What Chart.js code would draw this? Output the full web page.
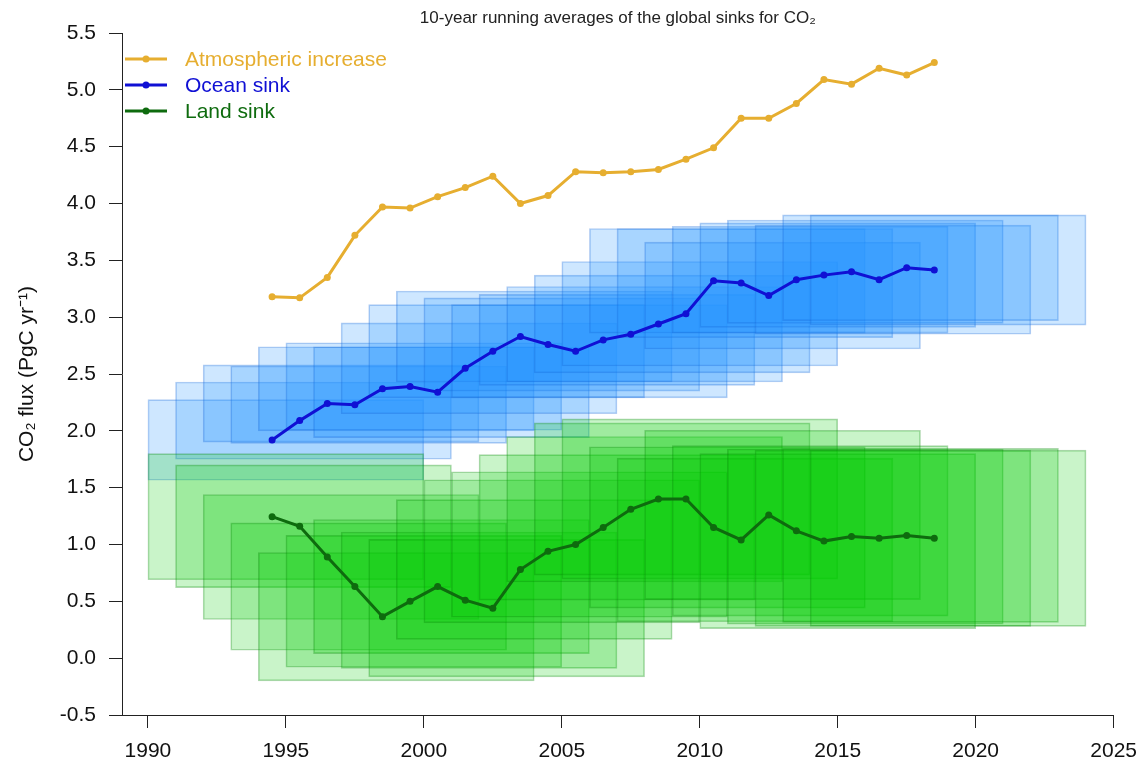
<!DOCTYPE html>
<html>
<head>
<meta charset="utf-8">
<script src="https://cdn.jsdelivr.net/npm/chart.js@4/dist/chart.umd.min.js"></script>
<style>
  html, body { margin: 0; padding: 0; background: #fff; }
  canvas { display: block; }
</style>
</head>
<body>
<canvas id="sinks" width="1148" height="766"></canvas>
<script>
// Mid-points of the 10-year averaging windows
const years = [1994.5, 1995.5, 1996.5, 1997.5, 1998.5, 1999.5, 2000.5, 2001.5, 2002.5, 2003.5,
               2004.5, 2005.5, 2006.5, 2007.5, 2008.5, 2009.5, 2010.5, 2011.5, 2012.5, 2013.5,
               2014.5, 2015.5, 2016.5, 2017.5, 2018.5];

// Extent of each averaging window (years)
const windowStart = [1990, 1991, 1992, 1993, 1994, 1995, 1996, 1997, 1998, 1999, 2000, 2001, 2002,
                     2003, 2004, 2005, 2006, 2007, 2008, 2009, 2010, 2011, 2012, 2013, 2014];
const windowEnd   = [2000, 2001, 2002, 2003, 2004, 2005, 2006, 2007, 2008, 2009, 2010, 2011, 2012,
                     2013, 2014, 2015, 2016, 2017, 2018, 2019, 2020, 2021, 2022, 2023, 2024];

// 10-year running means, PgC per year
const atmIncrease = [3.18, 3.17, 3.35, 3.72, 3.97, 3.96, 4.06, 4.14, 4.24, 4.00,
                     4.07, 4.28, 4.27, 4.28, 4.30, 4.39, 4.49, 4.75, 4.75, 4.88,
                     5.09, 5.05, 5.19, 5.13, 5.24];
const oceanSink   = [1.92, 2.09, 2.24, 2.23, 2.37, 2.39, 2.34, 2.55, 2.70, 2.83,
                     2.76, 2.70, 2.80, 2.85, 2.94, 3.03, 3.32, 3.30, 3.19, 3.33,
                     3.37, 3.40, 3.33, 3.435, 3.415];
const landSink    = [1.245, 1.16, 0.89, 0.63, 0.365, 0.50, 0.63, 0.51, 0.44, 0.78,
                     0.94, 1.00, 1.15, 1.31, 1.40, 1.40, 1.15, 1.04, 1.26, 1.12,
                     1.03, 1.07, 1.055, 1.08, 1.055];

// Half-width of the uncertainty band for each window
const oceanUnc = [0.355, 0.34, 0.34, 0.34, 0.37, 0.385, 0.40, 0.40, 0.41, 0.40,
                  0.41, 0.41, 0.40, 0.42, 0.43, 0.46, 0.46, 0.48, 0.47, 0.47,
                  0.46, 0.455, 0.48, 0.465, 0.485];
const landUnc  = [0.555, 0.54, 0.55, 0.56, 0.565, 0.58, 0.59, 0.60, 0.605, 0.615,
                  0.63, 0.64, 0.64, 0.64, 0.67, 0.705, 0.71, 0.72, 0.745, 0.75,
                  0.77, 0.77, 0.775, 0.765, 0.775];

// Axis ticks
const xTicks = [1990, 1995, 2000, 2005, 2010, 2015, 2020, 2025];
const yTicks = [-0.5, 0.0, 0.5, 1.0, 1.5, 2.0, 2.5, 3.0, 3.5, 4.0, 4.5, 5.0, 5.5];

const FONT = '"Liberation Sans", Arial, Helvetica, sans-serif';
const INK = '#111';

const COLORS = {
  atm: '#E6AE30',
  ocean: '#1010D4',
  land: '#0E6B0E',
  oceanFill: 'rgba(30,144,255,0.22)',
  oceanEdge: 'rgba(20,100,215,0.32)',
  landFill: 'rgba(0,205,0,0.21)',
  landEdge: 'rgba(0,130,0,0.32)'
};

function bandData(values, unc) {
  return values.map((v, i) => ({
    x: (windowStart[i] + windowEnd[i]) / 2,
    y: [v - unc[i], v + unc[i]]
  }));
}

function lineData(values) {
  return values.map((v, i) => ({ x: years[i], y: v }));
}

function bandDataset(label, values, unc, fill, edge, order) {
  return {
    type: 'bar',
    label,
    data: bandData(values, unc),
    backgroundColor: fill,
    borderColor: edge,
    borderWidth: 1,
    borderSkipped: false,
    grouped: false,
    barThickness: 1,
    order
  };
}

function lineDataset(label, values, color, order) {
  return {
    type: 'line',
    label,
    data: lineData(values),
    borderColor: color,
    backgroundColor: color,
    pointBackgroundColor: color,
    pointBorderColor: color,
    borderWidth: 3,
    pointRadius: 3.5,
    pointBorderWidth: 0,
    tension: 0,
    fill: false,
    order
  };
}

// Key in the upper-left corner of the plot: a line sample with a dot, then the series name
const seriesKey = {
  id: 'seriesKey',
  afterDatasetsDraw(chart) {
    const { ctx, chartArea } = chart;
    const lines = chart.data.datasets.filter(d => d.type === 'line');
    ctx.save();
    ctx.font = '21px ' + FONT;
    ctx.textBaseline = 'middle';
    ctx.textAlign = 'left';
    lines.forEach((ds, i) => {
      const y = chartArea.top + 26 + i * 26;
      const x0 = chartArea.left + 3;
      const x1 = chartArea.left + 45;
      ctx.strokeStyle = ds.borderColor;
      ctx.lineWidth = ds.borderWidth;
      ctx.beginPath();
      ctx.moveTo(x0, y);
      ctx.lineTo(x1, y);
      ctx.stroke();
      ctx.fillStyle = ds.borderColor;
      ctx.beginPath();
      ctx.arc((x0 + x1) / 2, y, ds.pointRadius, 0, Math.PI * 2);
      ctx.fill();
      ctx.fillText(ds.label, chartArea.left + 63, y + 1);
    });
    ctx.restore();
  }
};

const axisGrid = {
  display: true,
  drawOnChartArea: false,
  drawTicks: true,
  tickLength: 13,
  color: '#222',
  lineWidth: 1,
  offset: false
};

const config = {
  type: 'line',
  data: {
    datasets: [
      lineDataset('Atmospheric increase', atmIncrease, COLORS.atm, 0),
      lineDataset('Ocean sink', oceanSink, COLORS.ocean, 1),
      lineDataset('Land sink', landSink, COLORS.land, 2),
      bandDataset('Land sink range', landSink, landUnc, COLORS.landFill, COLORS.landEdge, 3),
      bandDataset('Ocean sink range', oceanSink, oceanUnc, COLORS.oceanFill, COLORS.oceanEdge, 4)
    ]
  },
  options: {
    responsive: false,
    animation: false,
    devicePixelRatio: 1,
    events: [],
    layout: { padding: { left: 0, right: 29, top: 0, bottom: 0 } },
    plugins: {
      legend: { display: false },
      tooltip: { enabled: false },
      title: {
        display: true,
        text: '10-year running averages of the global sinks for CO₂',
        fullSize: false,
        color: '#222',
        font: { family: FONT, size: 17, weight: 'normal', lineHeight: 1.2 },
        padding: { top: 7.8, bottom: 4.8 }
      }
    },
    scales: {
      x: {
        type: 'linear',
        min: 1989.06,
        max: 2025,
        offset: false,
        grid: axisGrid,
        border: { display: true, color: '#222', width: 1 },
        ticks: {
          color: INK,
          font: { family: FONT, size: 21 },
          padding: 11,
          maxRotation: 0,
          autoSkip: false,
          callback: v => String(v)
        },
        afterBuildTicks: s => { s.ticks = xTicks.map(v => ({ value: v })); },
        afterFit: s => { s.height = 51; }
      },
      y: {
        type: 'linear',
        min: -0.5,
        max: 5.5,
        grid: axisGrid,
        border: { display: true, color: '#222', width: 1 },
        ticks: {
          color: INK,
          font: { family: FONT, size: 21 },
          padding: 13,
          autoSkip: false,
          callback: v => Number(v).toFixed(1)
        },
        title: {
          display: true,
          text: 'CO₂ flux (PgC yr⁻¹)',
          color: INK,
          font: { family: FONT, size: 21, lineHeight: 1.2 },
          padding: { top: 15, bottom: 0 }
        },
        afterBuildTicks: s => { s.ticks = yTicks.map(v => ({ value: v })); },
        afterFit: s => { s.width = 122; }
      }
    }
  },
  plugins: [seriesKey]
};

const chart = new Chart(document.getElementById('sinks'), config);

// Each band spans its full averaging window on the x scale
const xs = chart.scales.x;
chart.data.datasets.forEach(ds => {
  if (ds.type === 'bar') {
    ds.barThickness = Math.abs(xs.getPixelForValue(windowEnd[0]) - xs.getPixelForValue(windowStart[0]));
  }
});
chart.update('none');
</script>
</body>
</html>
